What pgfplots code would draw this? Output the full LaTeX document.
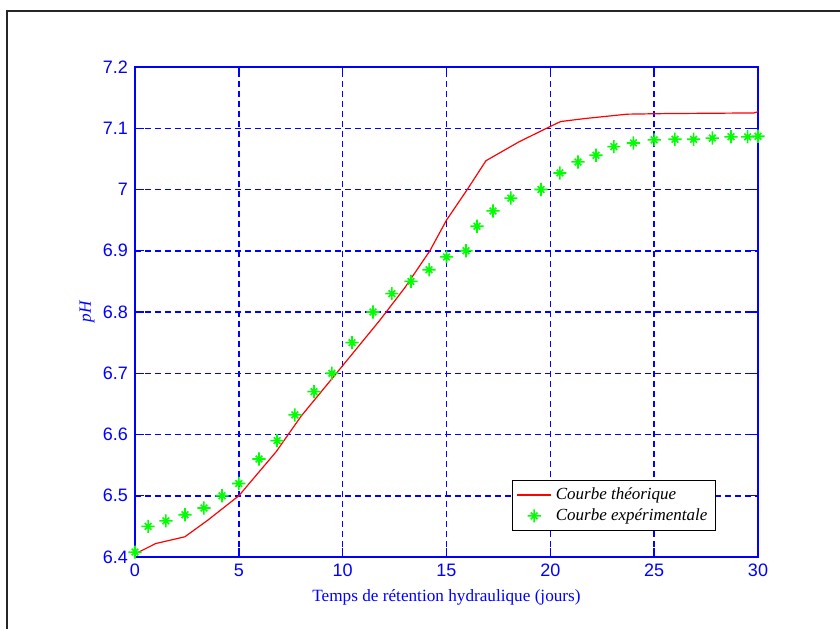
\documentclass[border=0pt]{standalone}
\usepackage{fontspec}
\setmainfont{Liberation Serif}
\setsansfont{Liberation Sans}
\usepackage{pgfplots}
\pgfplotsset{compat=1.18}
\pgfdeclareplotmark{mstar}{%
  \pgfpathmoveto{\pgfqpoint{-\pgfplotmarksize}{0pt}}%
  \pgfpathlineto{\pgfqpoint{\pgfplotmarksize}{0pt}}%
  \pgfpathmoveto{\pgfqpoint{0pt}{-\pgfplotmarksize}}%
  \pgfpathlineto{\pgfqpoint{0pt}{\pgfplotmarksize}}%
  \pgfpathmoveto{\pgfqpoint{-0.5\pgfplotmarksize}{-0.5\pgfplotmarksize}}%
  \pgfpathlineto{\pgfqpoint{0.5\pgfplotmarksize}{0.5\pgfplotmarksize}}%
  \pgfpathmoveto{\pgfqpoint{-0.5\pgfplotmarksize}{0.5\pgfplotmarksize}}%
  \pgfpathlineto{\pgfqpoint{0.5\pgfplotmarksize}{-0.5\pgfplotmarksize}}%
  \pgfusepathqstroke}
\definecolor{mblue}{RGB}{0,0,255}
\definecolor{mgreen}{RGB}{0,255,0}
\definecolor{mred}{RGB}{255,0,0}
\begin{document}
\begin{tikzpicture}
\useasboundingbox (-67.5pt,-35.5pt) rectangle (352.5pt,278.5pt);
\draw[black!85, line width=1.4pt] (-64pt,-50pt) -- (-64pt,273pt) -- (370pt,273pt);
\begin{axis}[
  scale only axis,
  width=311.5pt, height=245pt,
  at={(0,0)}, anchor=south west,
  xmin=0, xmax=30, ymin=6.4, ymax=7.2,
  xtick={0,5,...,30},
  ytick={6.4,6.5,...,7.2},
  yticklabel style={/pgf/number format/fixed, /pgf/number format/precision=1},
  /pgf/number format/assume math mode=true,
  tick label style={font=\fontsize{9}{10}\sffamily, text=mblue},
  axis line style={mblue, line width=0.7pt},
  tick style={mblue, line width=0.7pt},
  tick align=inside,
  major tick length=4.5pt,
  grid=major,
  major grid style={mblue, line width=0.75pt, dash pattern=on 3pt off 2pt},
  xlabel={Temps de rétention hydraulique (jours)},
  ylabel={\itshape pH},
  label style={font=\fontsize{8.6}{10}\selectfont, text=mblue},
  xlabel style={at={(axis description cs:0.5,-0.082)}, anchor=center},
  ylabel style={at={(axis description cs:-0.077,0.5)}, anchor=center, rotate=0},
  legend style={at={(axis description cs:0.605,0.157)}, anchor=north west,
    draw=black, fill=white, line width=0.6pt,
    font=\fontsize{8.5}{10}\itshape, text=black,
    inner xsep=2pt, inner ysep=1.5pt, row sep=-1pt},
  legend cell align=left,
]
\addplot[mred, line width=0.6pt] coordinates {
(0,6.405) (1,6.422) (2.4,6.433) (3.5,6.46) (5,6.5) (6,6.54) (6.8,6.572)
(8,6.63) (9.7,6.70) (11.8,6.787) (13,6.84) (14.2,6.90) (15,6.95) (16,7.0)
(16.9,7.047) (18.5,7.078) (20,7.103) (20.5,7.111) (21.7,7.116) (23.7,7.123)
(25.6,7.124) (29.8,7.125) (30,7.127)
};
\addlegendentry{Courbe théorique}
\addplot[only marks, mark=mstar, mark size=3.3pt, mgreen, line width=0.8pt] coordinates {
(0,6.408) (0.63,6.45) (1.49,6.459) (2.41,6.469) (3.32,6.48) (4.19,6.50)
(5.0,6.52) (5.97,6.56) (6.84,6.59) (7.70,6.632) (8.62,6.67) (9.48,6.70)
(10.45,6.75) (11.46,6.80) (12.37,6.83) (13.29,6.85) (14.16,6.869) (15.0,6.89)
(15.94,6.90) (16.47,6.94) (17.24,6.965) (18.1,6.986) (19.55,7.00) (20.46,7.027)
(21.33,7.045) (22.2,7.056) (23.06,7.07) (24.0,7.076) (25.0,7.081) (26.0,7.082)
(26.9,7.082) (27.8,7.084) (28.7,7.086) (29.5,7.086) (30,7.087)
};
\addlegendentry{Courbe expérimentale}
\end{axis}
\end{tikzpicture}
\end{document}
